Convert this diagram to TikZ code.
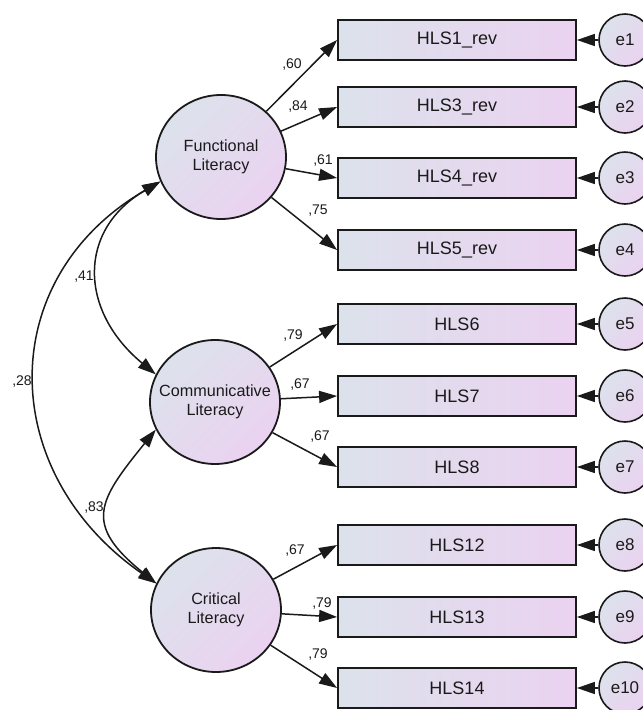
\documentclass[tikz,border=0pt]{standalone}
\usepackage{fontspec}
\setmainfont{Liberation Sans}
\usetikzlibrary{shapes.geometric,arrows.meta}
\definecolor{cA}{HTML}{DCE2EC}
\definecolor{cB}{HTML}{EBD2F0}
\definecolor{ink}{HTML}{1A1A1A}
\begin{document}
\begin{tikzpicture}[x=1pt,y=-1pt,
  latent/.style={ellipse, draw=ink, line width=1.8pt, minimum width=130pt, minimum height=124pt,
    inner xsep=-12pt, inner ysep=0pt, top color=cA, bottom color=cB, shading angle=45, align=center,
    font=\fontsize{16.2}{18.5}\selectfont, text=ink},
  obs/.style={rectangle, draw=ink, line width=1.8pt, minimum width=238pt, minimum height=40pt,
    inner sep=0pt, left color=cA, right color=cB, font=\fontsize{18}{20}\selectfont, text=ink},
  err/.style={circle, draw=ink, line width=1.6pt, minimum size=52pt, inner sep=0pt,
    top color=cA, bottom color=cB, shading angle=45, font=\fontsize{17}{19}\selectfont, text=ink},
  coef/.style={font=\fontsize{14}{16}\selectfont, text=ink, inner sep=0pt},
  arr/.style={draw=ink, line width=1.5pt, -{Triangle[length=18pt,width=12pt]}},
  dbl/.style={draw=ink, line width=1.5pt, {Triangle[length=18pt,width=12pt]}-{Triangle[length=18pt,width=12pt]}}
]
\useasboundingbox[fill=white] (0,0) rectangle (643,710);

% latent variables
\node[latent] (F) at (221,157) {Functional\\Literacy};
\node[latent] (C) at (215,402) {Communicative\\Literacy};
\node[latent] (K) at (216,610) {Critical\\Literacy};

% observed variables
\node[obs] (b1)  at (457,40)  {HLS1\_rev};
\node[obs] (b2)  at (457,107) {HLS3\_rev};
\node[obs] (b3)  at (457,178) {HLS4\_rev};
\node[obs] (b4)  at (457,250) {HLS5\_rev};
\node[obs] (b5)  at (457,324) {HLS6};
\node[obs] (b6)  at (457,396) {HLS7};
\node[obs] (b7)  at (457,467) {HLS8};
\node[obs] (b8)  at (457,545) {HLS12};
\node[obs] (b9)  at (457,617) {HLS13};
\node[obs] (b10) at (457,688) {HLS14};

% error terms
\foreach \i/\y in {1/40,2/107,3/178,4/250,5/324,6/396,7/467,8/545,9/617,10/688}{
  \node[err] (e\i) at (625,\y) {e\i};
  \draw[arr] (e\i) -- (b\i.east);
}

% loadings
\draw[arr] (F) -- (b1.west);
\draw[arr] (F) -- (b2.west);
\draw[arr] (F) -- (b3.west);
\draw[arr] (F) -- (b4.west);
\draw[arr] (C) -- (b5.west);
\draw[arr] (C) -- (b6.west);
\draw[arr] (C) -- (b7.west);
\draw[arr] (K) -- (b8.west);
\draw[arr] (K) -- (b9.west);
\draw[arr] (K) -- (b10.west);

% correlations
\draw[dbl] (F.202) .. controls (-6,278) and (-4,472) .. (K.156);
\draw[dbl] (F.202) .. controls (77,230) and (79,311) .. (C.155);
\draw[dbl] (C.205) .. controls (98,501) and (83,524) .. (K.156);

% coefficient labels
\node[coef] (l1)  at (292,65)  {,60};
\node[coef] (l2)  at (298,107) {,84};
\node[coef] (l3)  at (323,161) {,61};
\node[coef] (l4)  at (318,211) {,75};
\node[coef] (l5)  at (293,336) {,79};
\node[coef] (l6)  at (300,385) {,67};
\node[coef] (l7)  at (320,437) {,67};
\node[coef] (l8)  at (295,550) {,67};
\node[coef] (l9)  at (322,603) {,79};
\node[coef] (l10) at (318,654) {,79};
\node[coef] (r1)  at (84,277)  {,41};
\node[coef] (r2)  at (22,382)  {,28};
\node[coef] (r3)  at (94,508)  {,83};
\end{tikzpicture}
\end{document}
